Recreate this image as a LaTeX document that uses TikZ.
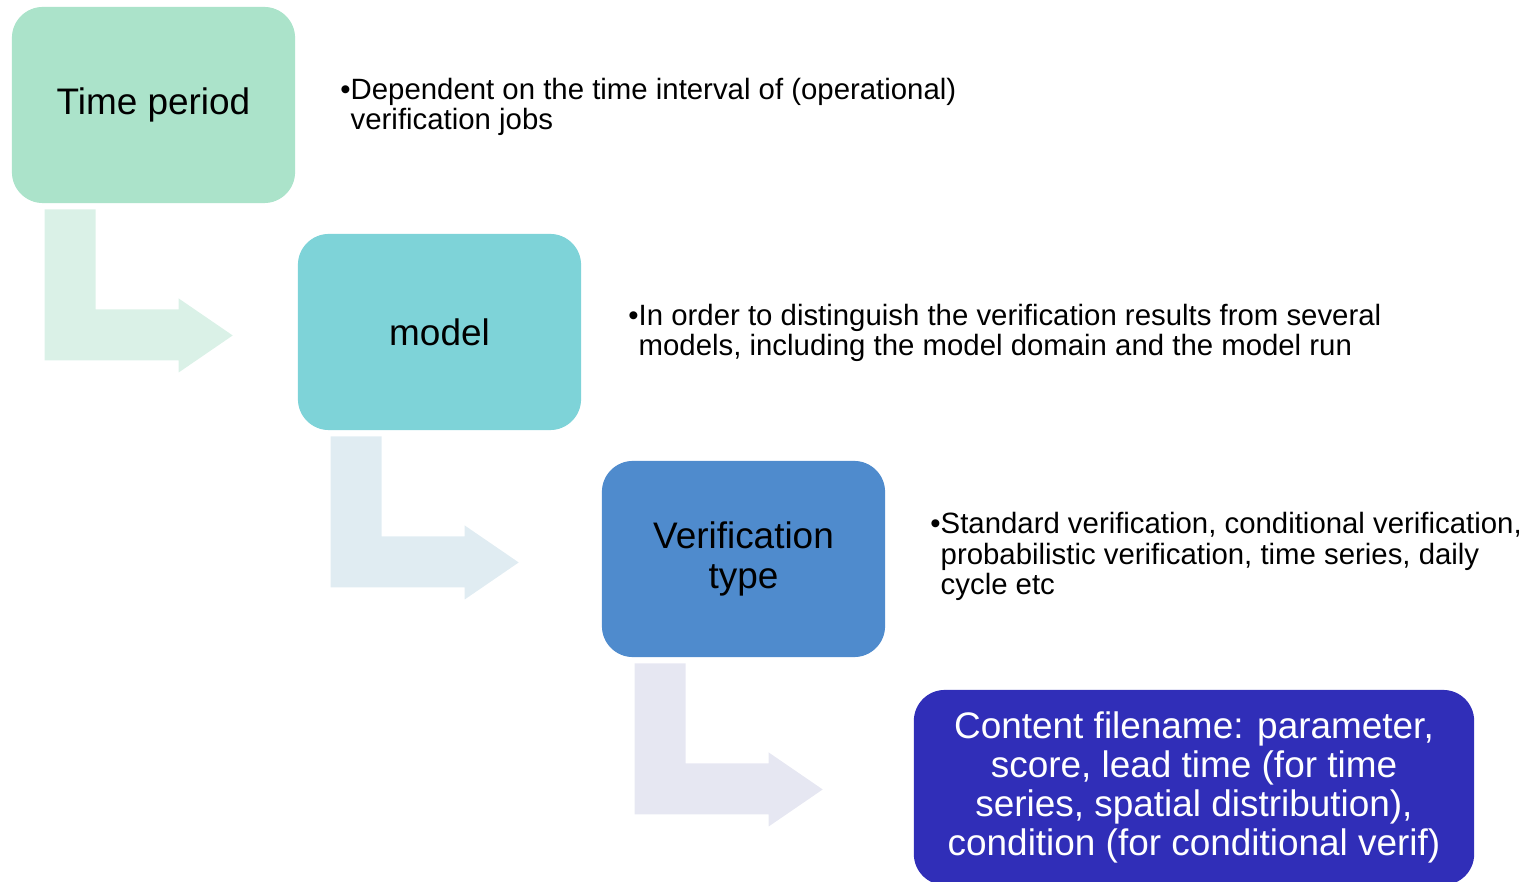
\documentclass[tikz,border=0pt]{standalone}
\usepackage{fontspec}
\setmainfont{Liberation Sans}
\usetikzlibrary{%
  calc,%
  positioning% wg. " of "
}

\definecolor{tpgreen}{HTML}{ABE3CA}
\definecolor{mdteal}{HTML}{7ED3D8}
\definecolor{vtblue}{HTML}{4F8BCD}
\definecolor{cfnavy}{HTML}{302EB8}
\definecolor{arrgreen}{HTML}{DAF1E7}
\definecolor{arrblue}{HTML}{E0ECF2}
\definecolor{arrlilac}{HTML}{E6E7F2}

\begin{document}
\begin{tikzpicture}[
  x=0.01cm, y=-0.01cm,
  box/.style={rounded corners=8.8pt, minimum width=2.83cm, minimum height=1.96cm,
    inner sep=0pt, align=center, font=\fontsize{10.5}{11.3}\selectfont},
  note/.style={anchor=base west, inner sep=0pt, align=left,
    font=\fontsize{8.35}{8.8}\selectfont}
]

\useasboundingbox (0,0) rectangle (1526,882);

% steps
\node[box, fill=tpgreen] (tp) at (153.5,105) {Time period};
\node[box, fill=mdteal] (md) at (439.5,332) {model};
\node[box, fill=vtblue] (vt) at (743.5,559) {Verification\\type};
\node[box, fill=cfnavy, text=white, minimum width=5.6cm, minimum height=1.95cm,
  font=\fontsize{10.5}{11.1}\selectfont] (cf) at (1194,787.5)
  {Content filename: parameter,\\score, lead time (for time\\series, spatial distribution),\\condition (for conditional verif)};

% bent arrows
\foreach \b/\c in {tp/arrgreen, md/arrblue, vt/arrlilac} {
  \fill[\c] ($(\b.south west)+(33.5,5.7)$) -- ++(51,0) -- ++(0,100) -- ++(83,0)
    -- ++(0,-11) -- ++(54,37) -- ++(-54,37) -- ++(0,-12) -- ++(-134,0) -- cycle;
}

% notes (anchored at the baseline of the last line)
\node[note] (ntp) at (350,130) {\llap{\textbullet}Dependent on the time interval of (operational)\\verification jobs};
\node[note] (nmd) at (638,356) {\llap{\textbullet}In order to distinguish the verification results from several\\models, including the model domain and the model run};
\node[note] (nvt) at (940,595) {\llap{\textbullet}Standard verification, conditional verification,\\probabilistic verification, time series, daily\\cycle etc};

\end{tikzpicture}
\end{document}
